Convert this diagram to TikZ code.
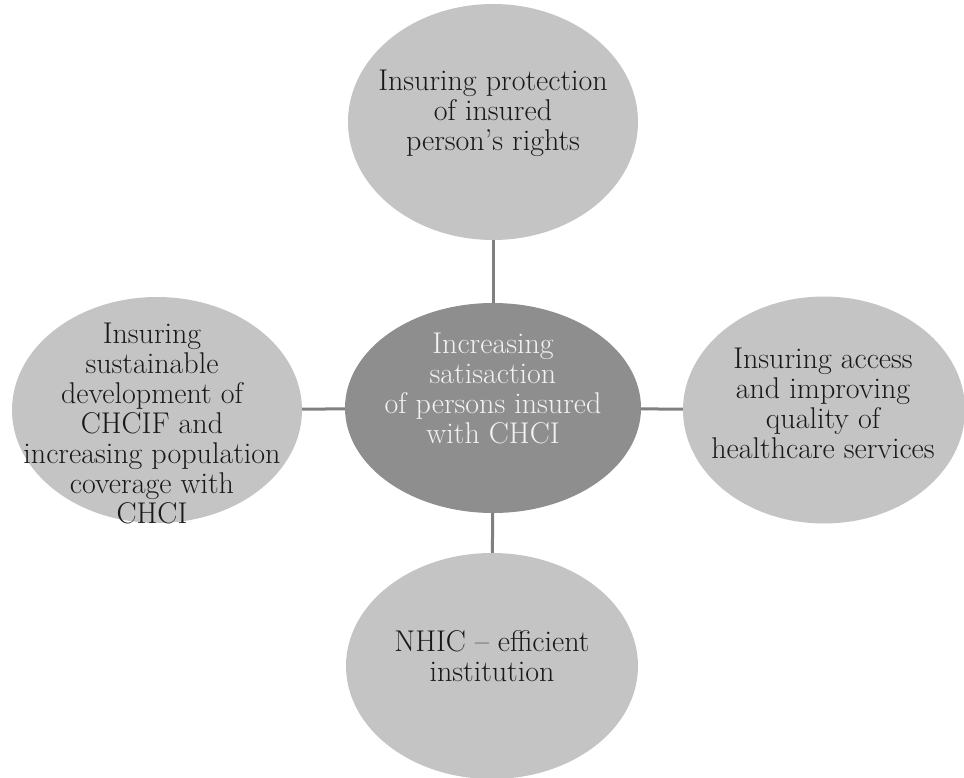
\documentclass[tikz,border=0pt]{standalone}
\usetikzlibrary{shapes.geometric}

\definecolor{blobgray}{RGB}{196,196,196}
\definecolor{hubgray}{RGB}{142,142,142}
\definecolor{linegray}{RGB}{128,128,128}

\tikzset{
  blob/.style={ellipse, fill=blobgray, inner sep=0pt},
  hub/.style={ellipse, fill=hubgray, inner sep=0pt},
  lbl/.style={align=center, text=black!90, font=\fontsize{30}{30}\selectfont},
  hublbl/.style={lbl, text=white!95!black},
  spoke/.style={draw=linegray, line width=3pt}
}

\begin{document}
\begin{tikzpicture}[x=1pt,y=-1pt]
\useasboundingbox (0,0) rectangle (964,778);

\node[hub, minimum width=296pt, minimum height=210pt] (hub) at (493,408) {}; % centre
\node[blob, minimum width=290pt, minimum height=236pt] (top) at (493,122) {}; % top circle
\node[blob, minimum width=290pt, minimum height=226pt] (left) at (157,410) {}; % left circle
\node[blob, minimum width=282pt, minimum height=227pt] (right) at (824,410) {}; % right circle
\node[blob, minimum width=292pt, minimum height=226pt] (bottom) at (492,666) {}; % bottom circle

\draw[spoke] (top) -- (hub);
\draw[spoke] (left) -- (hub);
\draw[spoke] (right) -- (hub);
\draw[spoke] (bottom) -- (hub);

\node[hublbl] (hubtxt) at (493,388) {Increasing\\satisaction\\of persons insured\\with CHCI};
\node[lbl] (toptxt) at (493,113) {Insuring protection\\of insured\\person's rights};
\node[lbl] (lefttxt) at (152,423) {Insuring\\sustainable\\development of\\CHCIF and\\increasing population\\coverage with\\CHCI};
\node[lbl] (righttxt) at (823,403) {Insuring access\\and improving\\quality of\\healthcare services};
\node[lbl] (bottomtxt) at (492,656) {NHIC -- efficient\\institution};

\end{tikzpicture}
\end{document}
